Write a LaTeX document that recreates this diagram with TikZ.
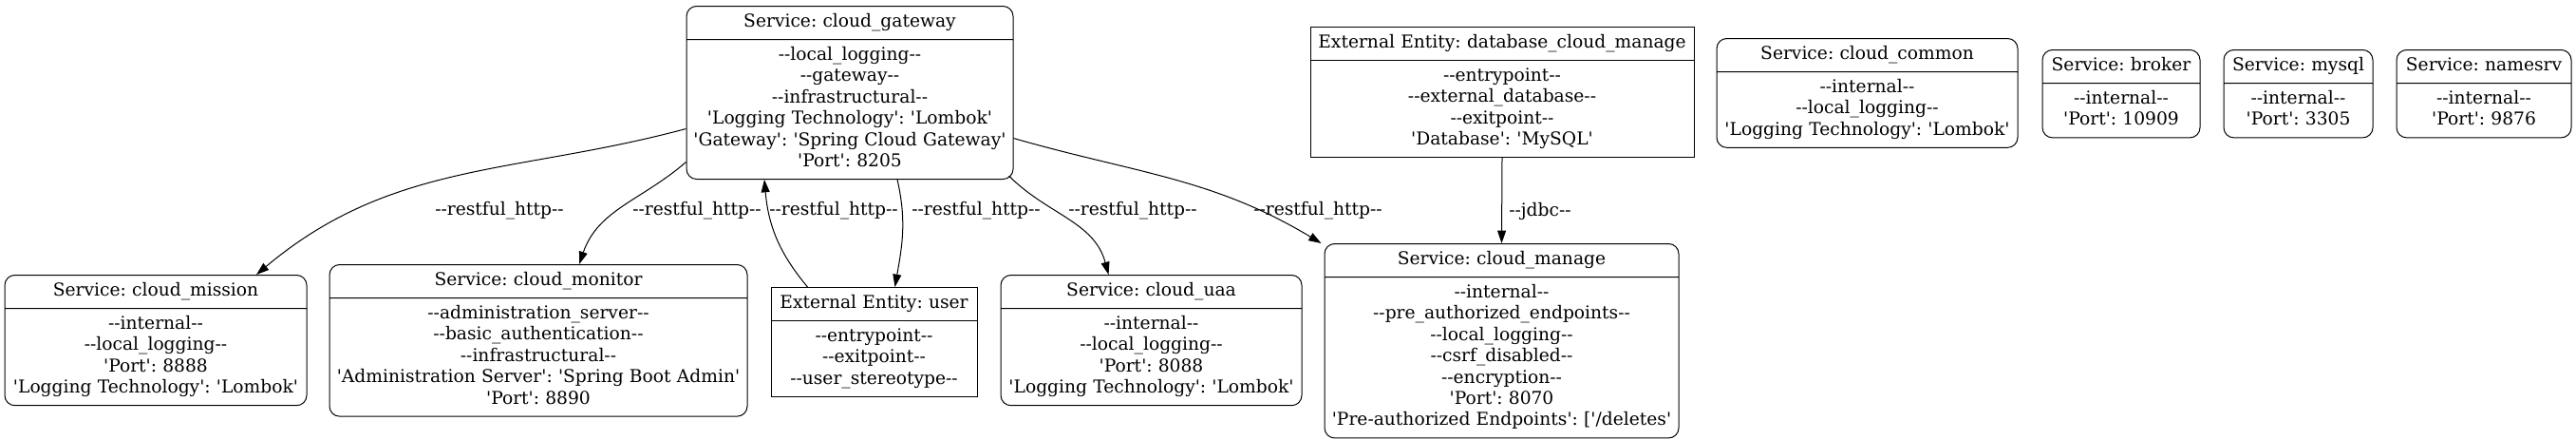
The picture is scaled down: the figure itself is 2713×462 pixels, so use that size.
\documentclass[tikz,border=0pt]{standalone}
\usepackage{fontspec}
\newfontfamily\dfdfont{DejaVu Serif}
\usetikzlibrary{shapes.multipart,arrows.meta,calc}

\newcommand\lines[1]{\strut#1\strut}

\tikzset{%
  dfdtext/.style={font=\dfdfont\fontsize{14}{16.8}\selectfont\frenchspacing},%
  entity/.style={dfdtext, rectangle split, rectangle split parts=2, draw,%
    line width=.75pt, align=center, text width=#1, inner xsep=0pt,%
    inner ysep=4.35pt, anchor=north},%
  service/.style={entity=#1, rounded corners=8pt},%
  flow/.style={-{Triangle[length=10pt,width=6.7pt]}, line width=.75pt},%
  lbl/.style={dfdtext, inner sep=0pt}%
}

\begin{document}
\begin{tikzpicture}[x=.75pt,y=-.75pt]%
  \path[fill=white, use as bounding box] (0,0) rectangle (2713,462);
  % Upper row
  \node[service=258pt] (gw) at (895,6) {\lines{Service: cloud\_gateway}%
    \nodepart{two}\lines{--local\_logging--\\--gateway--\\--infrastructural--\\%
      'Logging Technology': 'Lombok'\\'Gateway': 'Spring Cloud Gateway'\\'Port': 8205}};
  \node[entity=303pt] (db) at (1582,28) {\lines{External Entity: database\_cloud\_manage}%
    \nodepart{two}\lines{--entrypoint--\\--external\_database--\\--exitpoint--\\%
      'Database': 'MySQL'}};
  \node[service=237.75pt] (common) at (1966.5,40) {\lines{Service: cloud\_common}%
    \nodepart{two}\lines{--internal--\\--local\_logging--\\'Logging Technology': 'Lombok'}};
  \foreach \x/\w/\name/\port in {%
      2234/124.5pt/broker/10909,%
      2420.5/117.75pt/mysql/3305,%
      2616/138pt/namesrv/9876%
    }%
    \node[service=\w] (\name) at (\x,52) {\lines{Service: \name}%
      \nodepart{two}\lines{--internal--\\'Port': \port}};
  % Lower row
  \node[service=238.5pt] (mission) at (164,289) {\lines{Service: cloud\_mission}%
    \nodepart{two}\lines{--internal--\\--local\_logging--\\'Port': 8888\\%
      'Logging Technology': 'Lombok'}};
  \node[service=330pt] (monitor) at (567,278) {\lines{Service: cloud\_monitor}%
    \nodepart{two}\lines{--administration\_server--\\--basic\_authentication--\\%
      --infrastructural--\\'Administration Server': 'Spring Boot Admin'\\'Port': 8890}};
  \node[entity=162.75pt] (user) at (920.5,302) {\lines{External Entity: user}%
    \nodepart{two}\lines{--entrypoint--\\--exitpoint--\\--user\_stereotype--}};
  \node[service=237.75pt] (uaa) at (1212.5,289) {\lines{Service: cloud\_uaa}%
    \nodepart{two}\lines{--internal--\\--local\_logging--\\'Port': 8088\\%
      'Logging Technology': 'Lombok'}};
  \node[service=279.75pt] (manage) at (1581.5,256) {\lines{Service: cloud\_manage}%
    \nodepart{two}\lines{--internal--\\--pre\_authorized\_endpoints--\\--local\_logging--\\%
      --csrf\_disabled--\\--encryption--\\'Port': 8070\\%
      'Pre-authorized Endpoints': ['/deletes'}};
  % Flows
  \draw[flow] ($(gw.west)+(0,38)$) to[out=195,in=40] ($(mission.north)+(106,0)$);
  \draw[flow] ($(gw.west)+(0,73)$) to[out=221,in=71] ($(monitor.north)+(43,0)$);
  \draw[flow] ($(user.north)+(-70,0)$) to[out=130,in=-85] ($(gw.south)+(-90,0)$);
  \draw[flow] ($(gw.south)+(50,0)$) to[out=-77,in=80] ($(user.north)+(22,0)$);
  \draw[flow] ($(gw.south east)+(-5,-4)$) to[out=-45,in=105] ($(uaa.north)+(-45,0)$);
  \draw[flow] ($(gw.east)+(0,48)$) to[out=-16,in=149] ($(manage.north west)+(-3,0)$);
  \draw[flow] (db.south) -- (manage.north);
  % Flow labels
  \foreach \x/\name in {526/lmission,734/lmonitor,878/lusergw,1028/lgwuser,1193/luaa,1388/lmanage}%
    \node[lbl] (\name) at (\x,222) {--restful\_http--};
  \node[lbl] (ljdbc) at (1622,222) {--jdbc--};
\end{tikzpicture}
\end{document}
